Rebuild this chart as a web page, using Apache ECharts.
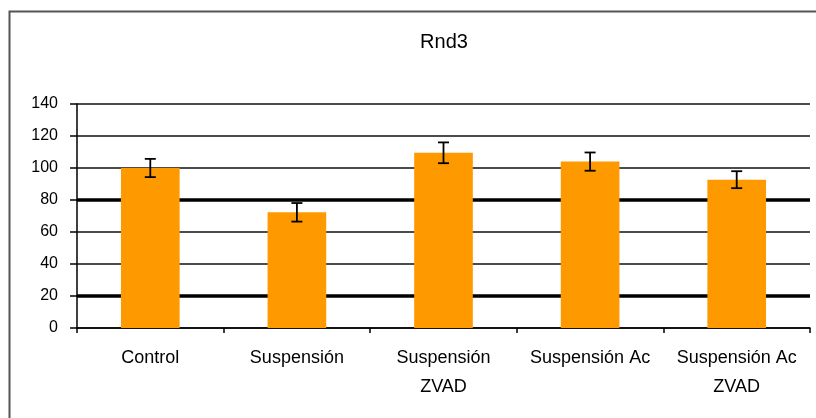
<!DOCTYPE html>
<html>
<head>
<meta charset="utf-8">
<script src="https://cdn.jsdelivr.net/npm/echarts@6/dist/echarts.min.js"></script>
<style>
html,body{margin:0;padding:0;background:#fff;}
#chart{width:816px;height:418px;}
</style>
</head>
<body>
<div id="chart"></div>
<script>
const titleText = 'Rnd3';
const categories = ['Control', 'Suspensión', 'Suspensión\nZVAD', 'Suspensión Ac', 'Suspensión Ac\nZVAD'];
const values = [100, 72.3, 109.5, 104, 92.7];
const errors = [5.7, 5.8, 6.5, 5.7, 5.3];
const yTicks = [0, 20, 40, 60, 80, 100, 120, 140];
const emphasizedGridValues = [20, 80];

const FONT = '"Liberation Sans", Arial, sans-serif';
const chart = echarts.init(document.getElementById('chart'), null, {renderer: 'canvas'});

chart.setOption({
  backgroundColor: '#fff',
  animation: false,
  title: {
    text: titleText,
    left: 439, top: 27,
    textAlign: 'center',
    textStyle: {fontFamily: FONT, fontSize: 20, fontWeight: 'normal', color: '#000'}
  },
  graphic: [{
    type: 'rect', left: 7, top: 9, z: -1, silent: true,
    shape: {width: 840, height: 440},
    style: {fill: 'none', stroke: '#555', lineWidth: 2}
  }],
  grid: {left: 77, right: 6, top: 104, bottom: 90, containLabel: false},
  xAxis: {
    type: 'category',
    data: categories,
    boundaryGap: true,
    axisLine: {lineStyle: {color: '#000', width: 1.5}},
    axisTick: {show: true, length: 5, lineStyle: {color: '#000', width: 1.5}},
    axisLabel: {fontFamily: FONT, fontSize: 18, color: '#000', margin: 16, lineHeight: 29, interval: 0}
  },
  yAxis: {
    type: 'value',
    min: yTicks[0], max: yTicks[yTicks.length - 1], interval: yTicks[1] - yTicks[0],
    axisLine: {show: true, lineStyle: {color: '#000', width: 1.5}},
    axisTick: {show: true, length: 7, lineStyle: {color: '#000', width: 1.5}},
    axisLabel: {fontFamily: FONT, fontSize: 16, color: '#000', margin: 19},
    splitLine: {show: true, lineStyle: {color: '#111', width: 1.6}}
  },
  series: [
    {
      type: 'bar',
      data: values,
      barWidth: '40%',
      itemStyle: {color: '#FF9900'},
      z: 2,
      markLine: {
        silent: true, symbol: 'none', z: 1,
        label: {show: false},
        lineStyle: {color: '#000', width: 3.5, type: 'solid'},
        emphasis: {disabled: true},
        data: emphasizedGridValues.map(v => ({yAxis: v}))
      }
    },
    {
      type: 'custom',
      z: 3,
      data: values.map((v, i) => [i, v - errors[i], v + errors[i]]),
      renderItem: function (params, api) {
        const x = api.value(0);
        const lo = api.coord([x, api.value(1)]);
        const hi = api.coord([x, api.value(2)]);
        const hw = 5.5;
        const style = {stroke: '#000', lineWidth: 1.8, fill: 'none'};
        return {
          type: 'group',
          children: [
            {type: 'line', shape: {x1: hi[0], y1: hi[1], x2: lo[0], y2: lo[1]}, style: style},
            {type: 'line', shape: {x1: hi[0] - hw, y1: hi[1], x2: hi[0] + hw, y2: hi[1]}, style: style},
            {type: 'line', shape: {x1: lo[0] - hw, y1: lo[1], x2: lo[0] + hw, y2: lo[1]}, style: style}
          ]
        };
      }
    }
  ]
});
</script>
</body>
</html>
